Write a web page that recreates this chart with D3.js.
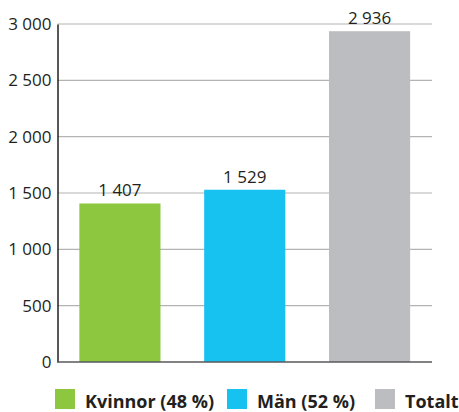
<!DOCTYPE html>
<html>
<head>
<meta charset="utf-8">
<script src="https://cdn.jsdelivr.net/npm/d3@7"></script>
<style>
  body { margin: 0; background: #fff; }
  text { font-family: "Open Sans", "Noto Sans", sans-serif; fill: #231f20; }
</style>
</head>
<body>
<div id="chart"></div>
<script>
var categories = ["Kvinnor (48 %)", "Män (52 %)", "Totalt"];
var values = [1407, 1529, 2936];
var colors = ["#8dc63f", "#17c1f0", "#bcbdc0"];
var yTicks = [0, 500, 1000, 1500, 2000, 2500, 3000];

var fmt = function(v) { return d3.format(",")(v).replace(/,/g, " "); };

var svg = d3.select("#chart").append("svg")
    .attr("width", 459)
    .attr("height", 412);

var margin = { top: 24, right: 27, bottom: 50, left: 57.5 },
    width = 459 - margin.left - margin.right,
    height = 412 - margin.top - margin.bottom,
    g = svg.append("g").attr("transform", "translate(" + margin.left + "," + margin.top + ")");

var x = d3.scaleBand()
    .domain(categories)
    .range([0, width])
    .paddingInner(0.35)
    .paddingOuter(0.175);

var y = d3.scaleLinear()
    .domain([0, 3000])
    .range([height, 0]);

// gridlines
g.append("g")
    .selectAll("line")
    .data(yTicks.filter(function(d) { return d > 0; }))
    .enter().append("line")
    .attr("x1", 0)
    .attr("x2", width)
    .attr("y1", function(d) { return y(d); })
    .attr("y2", function(d) { return y(d); })
    .attr("stroke", "#b3b3b3")
    .attr("stroke-width", 1.2);

// bars
g.append("g")
    .selectAll("rect")
    .data(values)
    .enter().append("rect")
    .attr("x", function(d, i) { return x(categories[i]); })
    .attr("y", function(d) { return y(d); })
    .attr("width", x.bandwidth())
    .attr("height", function(d) { return height - y(d); })
    .attr("fill", function(d, i) { return colors[i]; });

// value labels
g.append("g")
    .selectAll("text")
    .data(values)
    .enter().append("text")
    .attr("x", function(d, i) { return x(categories[i]) + x.bandwidth() / 2; })
    .attr("y", function(d) { return y(d) - 7; })
    .attr("text-anchor", "middle")
    .style("font-size", "17px")
    .text(function(d) { return fmt(d); });

// y axis
var yAxis = g.append("g")
    .call(d3.axisLeft(y).tickValues(yTicks).tickSize(0).tickPadding(6).tickFormat(fmt));
yAxis.select(".domain").attr("stroke", "#231f20").attr("stroke-width", 1.5);
yAxis.selectAll("text").style("font-size", "17px");

// x baseline
g.append("line")
    .attr("x1", 0)
    .attr("x2", width)
    .attr("y1", height)
    .attr("y2", height)
    .attr("stroke", "#58595b")
    .attr("stroke-width", 1.6);

// legend
var legendX = [55, 227, 375];
var legend = svg.append("g")
    .selectAll("g")
    .data(categories)
    .enter().append("g")
    .attr("transform", function(d, i) { return "translate(" + legendX[i] + ",389)"; });

legend.append("rect")
    .attr("width", 20)
    .attr("height", 20)
    .attr("fill", function(d, i) { return colors[i]; });

legend.append("text")
    .attr("x", 30)
    .attr("y", 19)
    .style("font-size", "18px")
    .style("font-weight", "bold")
    .text(function(d) { return d; });
</script>
</body>
</html>
